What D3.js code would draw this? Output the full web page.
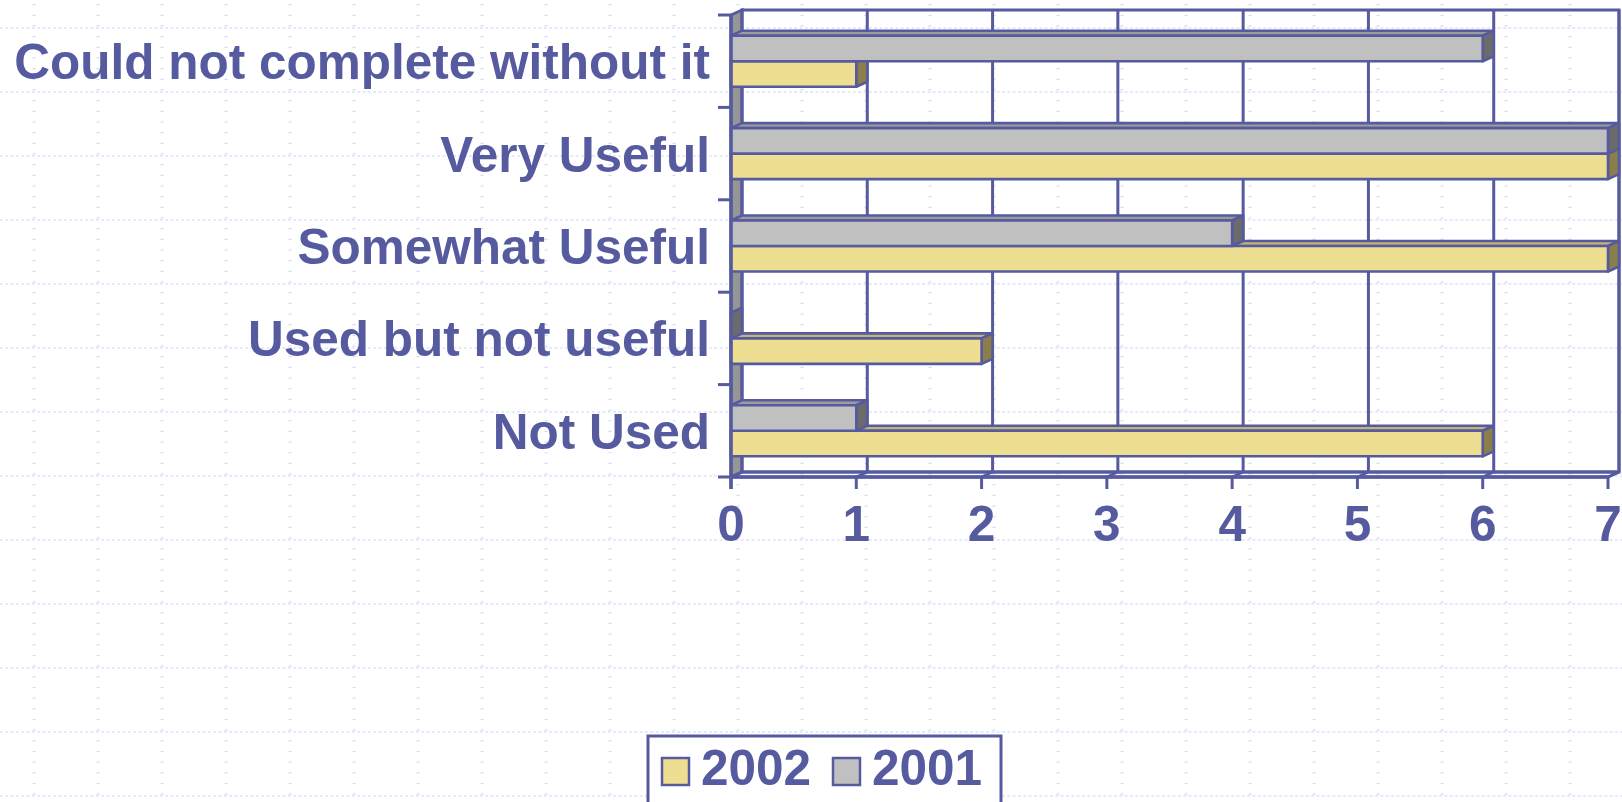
<!DOCTYPE html>
<html>
<head>
<meta charset="utf-8">
<script src="https://cdn.jsdelivr.net/npm/d3@7"></script>
<style>
  html, body { margin: 0; padding: 0; background: #ffffff; overflow: hidden; }
  svg { display: block; }
</style>
</head>
<body>
<svg id="chart" width="1622" height="802"></svg>
<script>
// ---- data ----
const categories = ["Could not complete without it", "Very Useful", "Somewhat Useful", "Used but not useful", "Not Used"];
const seriesNames = ["2001", "2002"];          // top bar, bottom bar inside each category
const values2001 = [6, 7, 4, 0, 1];
const values2002 = [1, 7, 7, 2, 6];
const xTicks = [0, 1, 2, 3, 4, 5, 6, 7];
const legendItems = ["2002", "2001"];

// ---- style ----
const ink = "#565B9F";
const font = "'Liberation Sans', Arial, sans-serif";
const colors = {
  "2002": { front: "#EEDE92", top: "#C4B374", side: "#8C7E4A" },
  "2001": { front: "#C0C0C0", top: "#9C9C9C", side: "#6B6B6B" }
};
const dx = 11, dy = -5;   // 3D depth offset
const lw = 3;
const fs = 49.5;

const svg = d3.select("#chart");
const W = 1622, H = 802;

// ---- background slide grid ----
const bg = svg.append("g");
bg.selectAll("line.h").data(d3.range(0, 13)).join("line")
  .attr("x1", 0).attr("x2", W)
  .attr("y1", d => 28 + 64 * d).attr("y2", d => 28 + 64 * d)
  .attr("stroke", "#CDD4FA").attr("stroke-width", 1.2)
  .attr("stroke-dasharray", "3 2.33");
bg.selectAll("line.v").data(d3.range(0, 26)).join("line")
  .attr("x1", d => 34 + 64 * d).attr("x2", d => 34 + 64 * d)
  .attr("y1", -28).attr("y2", H)
  .attr("stroke", "#D3D9FA").attr("stroke-width", 3)
  .attr("stroke-dasharray", "1.2 9.47");

// ---- scales ----
const x = d3.scaleLinear().domain([0, 7]).range([731, 1608]);
const y = d3.scaleBand().domain(categories).range([15, 477]).padding(0);
const ySub = d3.scaleBand().domain(seriesNames).range([0, y.bandwidth()])
  .paddingInner(0).paddingOuter(0.81);

const x0 = x(0), yTop = y.range()[0], yBot = y.range()[1], xMax = x(7);
const chart = svg.append("g");

// left wall
chart.append("path")
  .attr("d", `M${x0},${yTop} L${x0 + dx},${yTop + dy} L${x0 + dx},${yBot + dy} L${x0},${yBot} Z`)
  .attr("fill", "#969696").attr("stroke", ink).attr("stroke-width", lw);
// back wall
chart.append("rect")
  .attr("x", x0 + dx).attr("y", yTop + dy)
  .attr("width", xMax - x0).attr("height", yBot - yTop)
  .attr("fill", "none").attr("stroke", ink).attr("stroke-width", lw);
// floor
chart.append("path")
  .attr("d", `M${x0},${yBot} L${xMax},${yBot} L${xMax + dx},${yBot + dy} L${x0 + dx},${yBot + dy} Z`)
  .attr("fill", "none").attr("stroke", ink).attr("stroke-width", lw);
// value gridlines on back wall + floor
xTicks.filter(v => v > 0).forEach(v => {
  chart.append("line")
    .attr("x1", x(v) + dx).attr("x2", x(v) + dx)
    .attr("y1", yTop + dy).attr("y2", yBot + dy)
    .attr("stroke", ink).attr("stroke-width", lw);
});
xTicks.forEach(v => {
  chart.append("line")
    .attr("x1", x(v)).attr("y1", yBot)
    .attr("x2", x(v) + dx).attr("y2", yBot + dy)
    .attr("stroke", ink).attr("stroke-width", 2.5);
});

// ---- bars ----
const bars = [];
categories.forEach((c, i) => {
  bars.push({ cat: c, s: "2002", v: values2002[i] });
  bars.push({ cat: c, s: "2001", v: values2001[i] });
});
// draw from bottom to top so upper front faces cover lower top faces
bars.sort((a, b) => (y(b.cat) + ySub(b.s)) - (y(a.cat) + ySub(a.s)));

const h = ySub.bandwidth();
bars.forEach(b => {
  const y0 = y(b.cat) + ySub(b.s);
  const xv = x(b.v);
  const g = chart.append("g").attr("stroke", ink).attr("stroke-width", 2.6).attr("stroke-linejoin", "round");
  // top face
  g.append("path")
    .attr("d", `M${x0},${y0} L${x0 + dx},${y0 + dy} L${xv + dx},${y0 + dy} L${xv},${y0} Z`)
    .attr("fill", colors[b.s].top);
  // side face
  g.append("path")
    .attr("d", `M${xv},${y0} L${xv + dx},${y0 + dy} L${xv + dx},${y0 + h + dy} L${xv},${y0 + h} Z`)
    .attr("fill", colors[b.s].side);
  // front face
  if (b.v > 0) {
    g.append("rect")
      .attr("x", x0).attr("y", y0).attr("width", xv - x0).attr("height", h)
      .attr("fill", colors[b.s].front);
  }
});

// ---- axes ----
const axes = svg.append("g").attr("stroke", ink);
// y axis line and ticks
axes.append("line").attr("x1", x0).attr("x2", x0).attr("y1", yTop).attr("y2", yBot + 12).attr("stroke-width", 3.5);
const catEdges = categories.map(c => y(c)).concat([yBot]);
axes.selectAll("line.yt").data(catEdges).join("line")
  .attr("x1", x0 - 13).attr("x2", x0).attr("y1", d => d).attr("y2", d => d).attr("stroke-width", 3);
// x axis line and ticks
axes.append("line").attr("x1", x0).attr("x2", xMax).attr("y1", yBot).attr("y2", yBot).attr("stroke-width", 3.5);
axes.selectAll("line.xt").data(xTicks).join("line")
  .attr("x1", d => x(d)).attr("x2", d => x(d)).attr("y1", yBot).attr("y2", yBot + 12).attr("stroke-width", 3);

// category labels
svg.append("g").selectAll("text").data(categories).join("text")
  .attr("x", 710).attr("y", d => y(d) + y.bandwidth() / 2 + 18)
  .attr("text-anchor", "end")
  .attr("font-family", font).attr("font-weight", "bold").attr("font-size", fs)
  .attr("fill", ink).text(d => d);

// x tick labels
svg.append("g").selectAll("text").data(xTicks).join("text")
  .attr("x", d => x(d)).attr("y", 541)
  .attr("text-anchor", "middle")
  .attr("font-family", font).attr("font-weight", "bold").attr("font-size", fs)
  .attr("fill", ink).text(d => d);

// ---- legend ----
const lg = svg.append("g");
lg.append("rect").attr("x", 648).attr("y", 736).attr("width", 353).attr("height", 80)
  .attr("fill", "#ffffff").attr("stroke", ink).attr("stroke-width", 3);
const legX = d3.scaleOrdinal().domain(legendItems).range([662, 833]);
legendItems.forEach(s => {
  lg.append("rect").attr("x", legX(s)).attr("y", 758).attr("width", 27).attr("height", 27)
    .attr("fill", colors[s].front).attr("stroke", ink).attr("stroke-width", 2.5);
  lg.append("text").attr("x", legX(s) + 39).attr("y", 785)
    .attr("font-family", font).attr("font-weight", "bold").attr("font-size", fs)
    .attr("fill", ink).text(s);
});
</script>
</body>
</html>
